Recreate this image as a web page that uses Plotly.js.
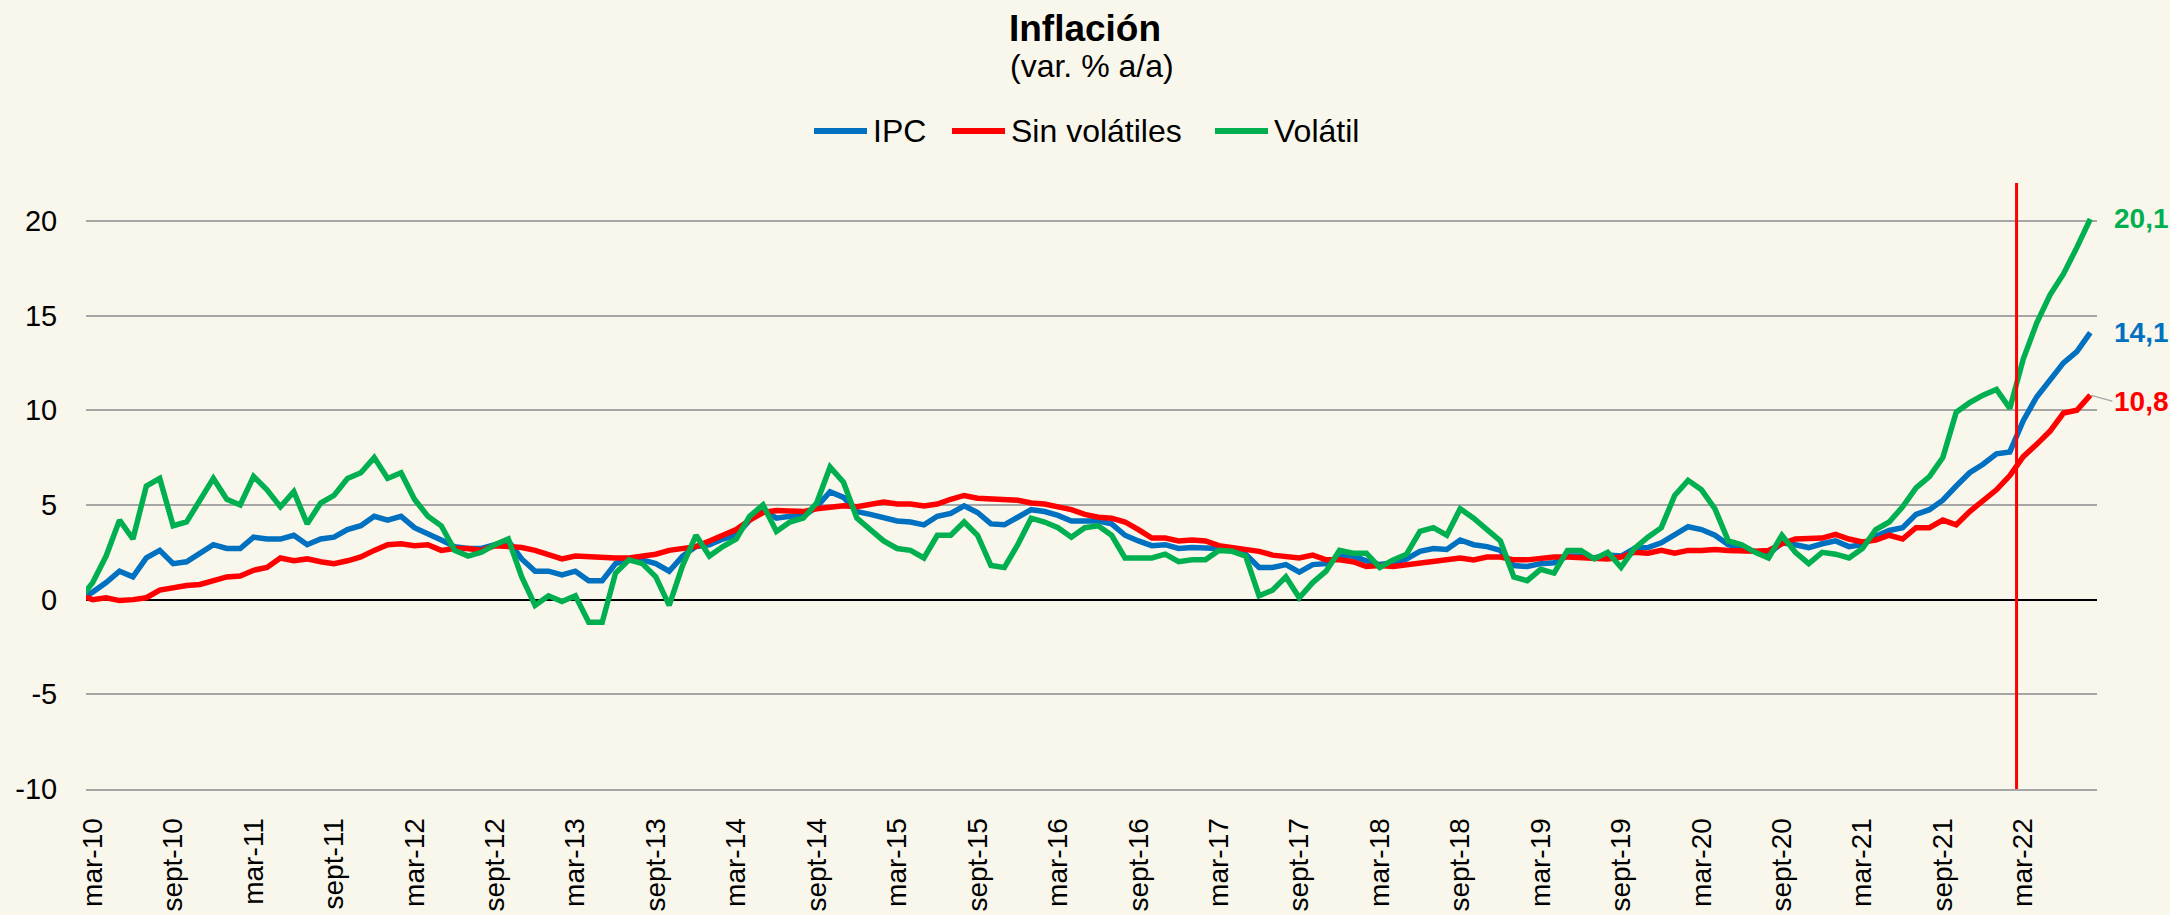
<!DOCTYPE html>
<html>
<head>
<meta charset="utf-8">
<script src="https://cdn.plot.ly/plotly-3.0.1.min.js"></script>
<style>
  html, body { margin: 0; padding: 0; background: #f9f7eb; }
  #chart { width: 2170px; height: 915px; }
</style>
</head>
<body>
<div id="chart"></div>
<script>
// meses: feb-10 .. ago-22 (el primero queda recortado por el borde del eje)
const MONTH_ABBR = ["ene", "feb", "mar", "abr", "may", "jun", "jul", "ago", "sept", "oct", "nov", "dic"];
const START_YEAR = 2010;
const START_MONTH = 1; // feb

// IPC total, var. % a/a
const ipc = [
  0.0,
  0.4, 0.9, 1.5, 1.2, 2.2, 2.6, 1.9, 2.0, 2.45, 2.9, 2.7, 2.7,
  3.3, 3.2, 3.2, 3.4, 2.9, 3.2, 3.3, 3.7, 3.9, 4.4, 4.2, 4.4,
  3.8, 3.5, 3.15, 2.8, 2.7, 2.7, 2.9, 3.1, 2.15, 1.5, 1.5, 1.3,
  1.5, 1.0, 1.0, 1.9, 2.15, 2.1, 1.9, 1.5, 2.3, 2.8, 2.9, 3.2,
  3.4, 4.2, 4.75, 4.3, 4.4, 4.4, 4.9, 5.7, 5.4, 4.65, 4.5, 4.35,
  4.15, 4.1, 3.95, 4.4, 4.55, 4.95, 4.6, 4.0, 3.95, 4.35, 4.75, 4.65,
  4.45, 4.15, 4.15, 4.15, 4.0, 3.4, 3.1, 2.85, 2.9, 2.7, 2.75, 2.75,
  2.7, 2.6, 2.4, 1.7, 1.7, 1.85, 1.45, 1.85, 1.9, 2.3, 2.3, 2.05,
  1.85, 1.95, 2.15, 2.55, 2.7, 2.65, 3.15, 2.9, 2.8, 2.6, 1.8, 1.75,
  1.9, 1.95, 2.3, 2.3, 2.2, 2.35, 2.3, 2.7, 2.75, 3.0, 3.45, 3.85,
  3.7, 3.4, 2.9, 2.7, 2.55, 2.4, 3.0, 2.9, 2.75, 2.95, 3.1, 2.8,
  2.9, 3.35, 3.65, 3.8, 4.5, 4.75, 5.25, 6.0, 6.7, 7.15, 7.7, 7.8,
  9.45, 10.7, 11.6, 12.5, 13.1, 14.1
];

// IPC sin volatiles
const sinVolatiles = [
  0.25,
  0.0, 0.1, -0.05, 0.0, 0.1, 0.5, 0.65, 0.75, 0.8, 1.0, 1.2, 1.25,
  1.55, 1.7, 2.2, 2.05, 2.15, 2.0, 1.9, 2.05, 2.25, 2.6, 2.9, 2.95,
  2.85, 2.9, 2.6, 2.7, 2.7, 2.6, 2.85, 2.8, 2.75, 2.6, 2.4, 2.15,
  2.3, 2.25, 2.2, 2.2, 2.2, 2.3, 2.4, 2.6, 2.7, 2.8, 3.1, 3.4,
  3.7, 4.2, 4.6, 4.7, 4.65, 4.65, 4.8, 4.9, 4.95, 4.9, 5.05, 5.15,
  5.05, 5.05, 4.95, 5.05, 5.3, 5.5, 5.35, 5.3, 5.25, 5.25, 5.1, 5.05,
  4.9, 4.75, 4.5, 4.35, 4.3, 4.1, 3.7, 3.25, 3.25, 3.1, 3.15, 3.1,
  2.85, 2.75, 2.7, 2.55, 2.35, 2.25, 2.2, 2.35, 2.1, 2.1, 2.0, 1.75,
  1.8, 1.75, 1.85, 1.95, 2.0, 2.1, 2.2, 2.1, 2.25, 2.25, 2.1, 2.1,
  2.2, 2.25, 2.25, 2.2, 2.15, 2.15, 2.25, 2.5, 2.45, 2.6, 2.45, 2.6,
  2.6, 2.65, 2.6, 2.55, 2.55, 2.6, 2.95, 3.2, 3.2, 3.25, 3.45, 3.2,
  3.05, 3.15, 3.4, 3.2, 3.8, 3.8, 4.2, 3.95, 4.65, 5.2, 5.8, 6.55,
  7.55, 8.2, 8.9, 9.85, 10.0, 10.8
];

// IPC volatil
const volatil = [
  0.0,
  0.9, 2.3, 4.2, 3.2, 6.0, 6.4, 3.9, 4.1, 5.3, 6.4, 5.3, 5.0,
  6.5, 5.8, 4.9, 5.7, 4.0, 5.1, 5.5, 6.4, 6.7, 7.5, 6.4, 6.7,
  5.3, 4.4, 3.9, 2.6, 2.3, 2.5, 2.9, 3.2, 1.2, -0.3, 0.2, -0.1,
  0.2, -1.2, -1.2, 1.4, 2.1, 1.9, 1.2, -0.3, 1.8, 3.4, 2.3, 2.8,
  3.2, 4.4, 5.0, 3.6, 4.1, 4.3, 5.1, 7.0, 6.2, 4.3, 3.7, 3.1,
  2.7, 2.6, 2.2, 3.4, 3.4, 4.1, 3.4, 1.8, 1.7, 2.9, 4.3, 4.1,
  3.8, 3.3, 3.8, 3.9, 3.4, 2.2, 2.2, 2.2, 2.4, 2.0, 2.1, 2.1,
  2.6, 2.55, 2.3, 0.2, 0.5, 1.2, 0.1, 0.9, 1.5, 2.6, 2.45, 2.45,
  1.7, 2.1, 2.4, 3.6, 3.8, 3.4, 4.8, 4.3, 3.7, 3.1, 1.2, 1.0,
  1.6, 1.4, 2.6, 2.6, 2.15, 2.5, 1.7, 2.7, 3.3, 3.8, 5.5, 6.3,
  5.8, 4.8, 3.1, 2.9, 2.5, 2.2, 3.4, 2.5, 1.9, 2.5, 2.4, 2.2,
  2.7, 3.7, 4.1, 4.9, 5.9, 6.5, 7.5, 9.9, 10.4, 10.8, 11.1, 10.1,
  12.7, 14.6, 16.1, 17.2, 18.6, 20.1
];

const months = ipc.map((_, i) => {
  const m = START_MONTH + i;
  const year = START_YEAR + Math.floor(m / 12);
  return MONTH_ABBR[m % 12] + "-" + String(year).slice(2);
});

// etiquetas del eje: marzo y septiembre de cada año
const tickLabels = months.filter((m) => m.startsWith("mar-") || m.startsWith("sept-"));
const yTicks = [-10, -5, 0, 5, 10, 15, 20];

const MARKER_MONTH = "mar-22"; // linea vertical roja, justo antes de este mes

const FONT = "Liberation Sans, Arial, sans-serif";
const BLUE = "#0070c0";
const RED = "#ff0000";
const GREEN = "#00b050";

// area de trazado en px (para ubicar la leyenda hecha a mano)
const PLOT = { left: 86, right: 2097, top: 183, bottom: 789 };
const pxToPaperX = (px) => (px - PLOT.left) / (PLOT.right - PLOT.left);
const pxToPaperY = (py) => (PLOT.bottom - py) / (PLOT.bottom - PLOT.top);

const series = [
  { name: "IPC", y: ipc, color: BLUE, legendX: 814 },
  { name: "Sin volátiles", y: sinVolatiles, color: RED, legendX: 952 },
  { name: "Volátil", y: volatil, color: GREEN, legendX: 1215 },
];

const traces = series.map((s) => ({
  type: "scatter",
  mode: "lines",
  name: s.name,
  x: months,
  y: s.y,
  line: { color: s.color, width: 5.5 },
  hoverinfo: "skip",
  showlegend: false,
}));

// leyenda: muestra de linea + texto
const LEGEND_Y = 131;
const SAMPLE_LEN = 53;
const legendShapes = series.map((s) => ({
  type: "line",
  xref: "paper",
  yref: "paper",
  x0: pxToPaperX(s.legendX),
  x1: pxToPaperX(s.legendX + SAMPLE_LEN),
  y0: pxToPaperY(LEGEND_Y),
  y1: pxToPaperY(LEGEND_Y),
  line: { color: s.color, width: 6 },
}));
const legendTexts = series.map((s) => ({
  text: s.name,
  xref: "paper",
  yref: "paper",
  x: pxToPaperX(s.legendX + SAMPLE_LEN + 4),
  y: pxToPaperY(LEGEND_Y),
  xanchor: "left",
  yanchor: "middle",
  showarrow: false,
  font: { family: FONT, size: 32, color: "#000" },
}));

const fmt = (v) => v.toFixed(1).replace(".", ",");
const lastX = months[months.length - 1];

const endLabels = [
  { y: volatil[volatil.length - 1], color: GREEN, leader: false },
  { y: ipc[ipc.length - 1], color: BLUE, leader: false },
  { y: sinVolatiles[sinVolatiles.length - 1], color: RED, leader: true },
].map((l) => {
  const base = {
    x: lastX,
    y: l.y,
    xref: "x",
    yref: "y",
    text: "<b>" + fmt(l.y) + "</b>",
    font: { family: FONT, size: 28, color: l.color },
    xanchor: "left",
    yanchor: "middle",
  };
  if (l.leader) {
    return { ...base, showarrow: true, arrowhead: 0, arrowwidth: 1.5, arrowcolor: "#a6a6a6", ax: 22, ay: 6, standoff: 0 };
  }
  return { ...base, showarrow: false, xshift: 22 };
});

const markerX = months.indexOf(MARKER_MONTH) - 0.5;

const layout = {
  width: 2170,
  height: 915,
  paper_bgcolor: "#f9f7eb",
  plot_bgcolor: "#f9f7eb",
  margin: { l: PLOT.left, r: 2170 - PLOT.right, t: PLOT.top, b: 915 - PLOT.bottom },
  font: { family: FONT, color: "#000" },
  title: {
    text: "<b>Inflación</b>",
    font: { family: FONT, size: 37, color: "#000" },
    x: 0.5,
    xanchor: "center",
    y: 1 - 28 / 915,
    yanchor: "middle",
  },
  showlegend: false,
  xaxis: {
    type: "category",
    range: [0.5, months.length - 0.5],
    tickmode: "array",
    tickvals: tickLabels,
    ticktext: tickLabels,
    tickangle: -90,
    tickfont: { family: FONT, size: 28, color: "#000" },
    ticks: "outside",
    ticklen: 16,
    tickcolor: "rgba(0,0,0,0)",
    showgrid: false,
    showline: true,
    linecolor: "#a6a6a6",
    linewidth: 2,
    zeroline: false,
    fixedrange: true,
  },
  yaxis: {
    range: [-10, 22],
    tickmode: "array",
    tickvals: yTicks,
    ticktext: yTicks.map(String),
    tickfont: { family: FONT, size: 29, color: "#000" },
    ticks: "outside",
    ticklen: 22,
    tickcolor: "rgba(0,0,0,0)",
    showgrid: true,
    gridcolor: "#a6a6a6",
    gridwidth: 2,
    zeroline: true,
    zerolinecolor: "#000",
    zerolinewidth: 2,
    showline: false,
    fixedrange: true,
  },
  shapes: [
    {
      type: "line",
      xref: "x",
      yref: "paper",
      x0: markerX,
      x1: markerX,
      y0: 0,
      y1: 1,
      line: { color: RED, width: 3 },
    },
    ...legendShapes,
  ],
  annotations: [
    {
      text: "(var. % a/a)",
      xref: "paper",
      yref: "paper",
      x: 0.5,
      y: pxToPaperY(66),
      xanchor: "center",
      yanchor: "middle",
      showarrow: false,
      font: { family: FONT, size: 32, color: "#000" },
    },
    ...legendTexts,
    ...endLabels,
  ],
};

Plotly.newPlot("chart", traces, layout, { displayModeBar: false, staticPlot: true });
</script>
</body>
</html>
